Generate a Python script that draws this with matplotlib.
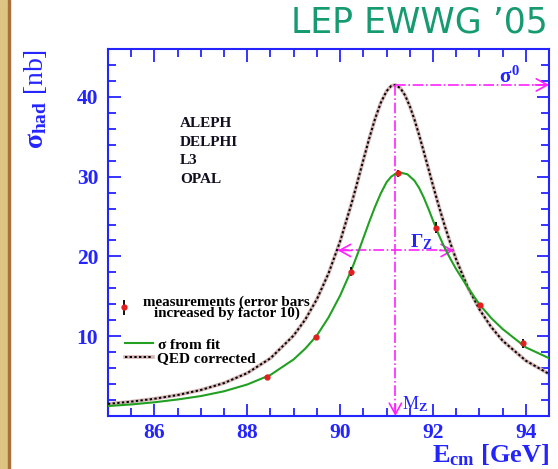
import numpy as np
import matplotlib.pyplot as plt
from matplotlib.patches import Rectangle
from matplotlib.ticker import MultipleLocator, FixedLocator

plt.rcParams['font.family'] = ['Liberation Serif', 'DejaVu Serif']
plt.rcParams['mathtext.fontset'] = 'custom'
plt.rcParams['mathtext.rm'] = 'Liberation Serif:bold'
plt.rcParams['mathtext.it'] = 'Liberation Serif:bold'
plt.rcParams['mathtext.bf'] = 'Liberation Serif:bold'

# measured hadronic cross sections (error bars x10)
e_meas = [88.42, 89.48, 90.23, 91.25, 92.07, 93.02, 93.93]
sig_meas = [4.9, 9.9, 18.1, 30.4, 23.6, 13.9, 9.1]
err_meas = [0.3, 0.3, 0.6, 0.4, 0.7, 0.3, 0.6]

# sigma from fit (green)
e_fit = [85.0, 85.5, 86.0, 86.5, 87.0, 87.5, 88.0, 88.5, 89.0, 89.25, 89.5, 89.75,
         90.0, 90.25, 90.375, 90.5, 90.625, 90.75, 90.875, 91.0, 91.1, 91.19, 91.3,
         91.45, 91.6, 91.7, 91.8, 91.9, 92.0, 92.125, 92.25, 92.375, 92.5, 92.75,
         93.0, 93.25, 93.5, 94.0, 94.5]
sig_fit = [1.25, 1.45, 1.72, 2.07, 2.5, 3.1, 3.95, 5.15, 7.1, 8.45, 10.1, 12.35,
           15.1, 18.4, 20.3, 22.3, 24.3, 26.2, 27.9, 29.3, 30.0, 30.35, 30.5,
           30.3, 29.5, 28.6, 27.4, 26.0, 24.5, 22.7, 21.1, 19.7, 18.4, 16.1,
           14.0, 12.3, 10.9, 8.6, 7.25]

# QED corrected (black dotted)
e_qed = [85.0, 85.5, 86.0, 86.5, 87.0, 87.5, 88.0, 88.5, 89.0, 89.25, 89.5, 89.75,
         90.0, 90.25, 90.375, 90.5, 90.625, 90.75, 90.875, 91.0, 91.1, 91.19, 91.3,
         91.4, 91.5, 91.6, 91.7, 91.8, 91.9, 92.0, 92.125, 92.25, 92.375, 92.5,
         92.75, 93.0, 93.25, 93.5, 94.0, 94.5]
sig_qed = [1.52, 1.8, 2.16, 2.63, 3.26, 4.13, 5.38, 7.24, 10.1, 12.1, 14.65, 17.87,
           21.89, 26.72, 29.38, 32.09, 34.76, 37.21, 39.26, 40.72, 41.37, 41.5, 41.08,
           40.18, 38.84, 37.17, 35.24, 33.17, 31.04, 28.9, 26.32, 23.89, 21.65, 19.61,
           16.13, 13.37, 11.18, 9.44, 6.93, 5.27]

y_labels = [10, 20, 30, 40]

mz = 91.19
sigma0 = 41.5
gamma_lo, gamma_hi = 89.95, 92.45
half = sigma0 / 2

blue = '#2424ff'
mag = '#ff22ff'

fig = plt.figure(figsize=(5.58, 4.69), dpi=100)
ax = fig.add_axes([0.1935, 0.113, 0.7905, 0.7825])

# tan slide border on the left
fig.patches.append(Rectangle((0, 0), 0.015, 1, transform=fig.transFigure,
                             color='#dec483', zorder=0))
fig.patches.append(Rectangle((0.0145, 0), 0.004, 1, transform=fig.transFigure,
                             color='#a8703c', zorder=0))

qed_halo, = ax.plot(e_qed, sig_qed, color='#d4b4b4', lw=2.6, zorder=2)
qed_dots, = ax.plot(e_qed, sig_qed, color='black', lw=1.4, ls=(0, (1.2, 1.2)), zorder=3)
fit_line, = ax.plot(e_fit, sig_fit, color='#22a022', lw=1.5, zorder=4)
meas = ax.errorbar(e_meas, sig_meas, yerr=err_meas, fmt='o', ms=3.5, color='#e02020',
                   ecolor='black', elinewidth=1.3, capsize=0, zorder=5)

# peak, width and mass markers
ax.plot([mz, mz], [sigma0, 0], color=mag, lw=1.2, ls='-.', zorder=3)
ax.plot([mz, 94.5], [sigma0, sigma0], color=mag, lw=1.2, ls='-.', zorder=3)
ax.plot([gamma_lo, gamma_hi], [half, half], color=mag, lw=1.2, ls='-.', zorder=3)
head = dict(arrowstyle='->,head_length=0.4,head_width=0.22', color=mag, lw=1.2,
            mutation_scale=20, shrinkA=0, shrinkB=0)
ax.annotate('', xy=(mz, 0), xytext=(mz, 1.5), arrowprops=head)
ax.annotate('', xy=(94.5, sigma0), xytext=(94.2, sigma0), arrowprops=head)
ax.annotate('', xy=(gamma_lo, half), xytext=(gamma_lo + 0.3, half), arrowprops=head)
ax.annotate('', xy=(gamma_hi, half), xytext=(gamma_hi - 0.3, half), arrowprops=head)

ax.text(93.65, sigma0 - 0.3, r'$\sigma^0$', color=blue, fontsize=15, ha='center', va='bottom')
ax.text(91.76, half - 0.2, r'$\Gamma_{\rm Z}$', color=blue, fontsize=14, ha='center', va='bottom')
ax.text(91.33, 0.2, r'M$_{\rm Z}$', color=blue, fontsize=13, ha='left', va='bottom')

ax.text(86.55, 37.5, 'ALEPH\nDELPHI\nL3\nOPAL', fontsize=11, fontweight='bold',
        va='top', ha='left', linespacing=1.58, color='#101020')

leg1 = ax.legend([meas], ['measurements (error bars\nincreased by factor 10)'],
                 loc='upper left', bbox_to_anchor=(-0.005, 0.358), frameon=False,
                 prop={'weight': 'bold', 'size': 10.8}, handlelength=1.0, handletextpad=0.8,
                 borderpad=0.2)
for t in leg1.get_texts():
    t.set_multialignment('center')
    t.set_linespacing(0.78)
ax.add_artist(leg1)
ax.legend([fit_line, (qed_halo, qed_dots)], [r'$\sigma$ from fit', 'QED corrected'],
          loc='upper left', bbox_to_anchor=(0.015, 0.243), frameon=False,
          prop={'weight': 'bold', 'size': 11}, handlelength=1.8, handletextpad=0.3,
          labelspacing=0.0, borderpad=0.2)

ax.set_xlim(85, 94.5)
ax.set_ylim(0, 46)
ax.xaxis.set_major_locator(MultipleLocator(2))
ax.xaxis.set_minor_locator(MultipleLocator(0.5))
ax.yaxis.set_major_locator(FixedLocator(y_labels))
ax.yaxis.set_minor_locator(MultipleLocator(2))
ax.tick_params(which='both', direction='in', top=True, right=True, color=blue,
               labelcolor=blue, labelsize=15.5, width=1.3)
ax.tick_params(which='major', length=9, pad=7)
ax.tick_params(axis='x', which='major', pad=5)
ax.tick_params(which='minor', length=5.5)
for lab in ax.get_xticklabels() + ax.get_yticklabels():
    lab.set_fontweight('bold')
for sp in ax.spines.values():
    sp.set_color(blue)
    sp.set_linewidth(1.5)

ax.set_xlabel(r'E$_{\rm cm}$ [GeV]', fontsize=19, color=blue, ha='right', va='top',
              fontweight='bold')
ax.xaxis.set_label_coords(1.0, -0.071)
ax.set_ylabel(r'$\sigma_{\rm had}$ [nb]', fontsize=20, color=blue, loc='top', labelpad=20)

fig.text(0.982, 0.951, 'LEP EWWG \u201905', ha='right', va='center', fontsize=25,
         color='#169a70', family='DejaVu Sans')

fig.savefig('out.png', dpi=100)
